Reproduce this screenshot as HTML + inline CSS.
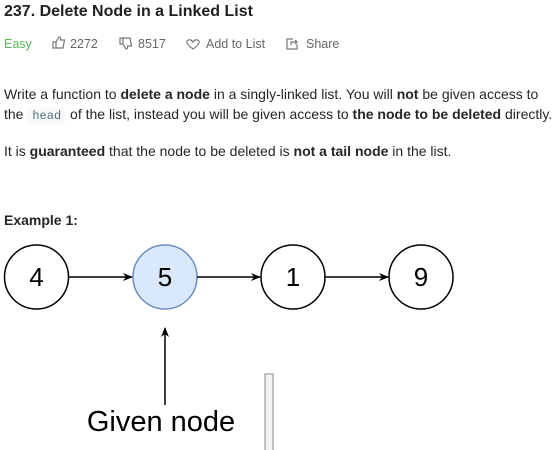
<!DOCTYPE html>
<html><head><meta charset="utf-8"><style>
body{margin:0;width:555px;height:450px;background:#fff;position:relative;overflow:hidden;font-family:"Liberation Sans","DejaVu Sans",sans-serif;color:#262626}
.t{position:absolute;white-space:nowrap;font-size:14px}
b{font-weight:bold}
code{font-family:"Liberation Mono",monospace;font-size:12px;background:#f7f9fa;color:#546e7a;padding:1px 5px;border-radius:3px}
</style></head><body>
<div class="t" style="left:4px;top:3px;font-size:16px;font-weight:bold;color:#212121">237. Delete Node in a Linked List</div>
<div class="t" style="left:4px;top:37px;font-size:12.5px;color:#5cb85c">Easy</div>
<div class="t" style="left:70px;top:37px;font-size:12.5px;color:#666">2272</div>
<div class="t" style="left:138px;top:37px;font-size:12.5px;color:#666">8517</div>
<div class="t" style="left:206px;top:37px;font-size:12.5px;color:#666">Add to List</div>
<div class="t" style="left:306px;top:37px;font-size:12.5px;color:#666">Share</div>
<svg style="position:absolute;left:0;top:0" width="555" height="60" fill="none" stroke="#777" stroke-width="1.2">
<path d="M53,48 h3 v-6 h-3z M56,42 l3,-5 q2,0 1.5,3 h4 l-1.5,8 h-7"/>
<path d="M120,38 h3 v6 h-3z M123,44 l3,5 q2,0 1.5,-3 h4 l-1.5,-8 h-7"/>
<path d="M193,42 q-3,-4 -6,-1 q-1,3 6,8 q7,-5 6,-8 q-3,-3 -6,1z"/>
<path d="M293,39 h-6 v10 h10 v-5 M291,45 v-3 h6 M295,40 l2,2 l-2,2"/>
</svg>
<div class="t" style="left:4px;top:86px">Write a function to <b>delete a node</b> in a singly-linked list. You will <b>not</b> be given access to</div>
<div class="t" style="left:4px;top:106px">the <code>head</code> of the list, instead you will be given access to <b>the node to be deleted</b> directly.</div>
<div class="t" style="left:4px;top:143px">It is <b>guaranteed</b> that the node to be deleted is <b>not a tail node</b> in the list.</div>
<div class="t" style="left:4px;top:212px;font-weight:bold">Example 1:</div>
<svg style="position:absolute;left:0;top:0" width="555" height="450">
<defs><marker id="a" markerWidth="10" markerHeight="8" refX="9" refY="4" orient="auto" markerUnits="userSpaceOnUse"><path d="M0,0 L10,4 L0,8 L3,4z" fill="#000"/></marker></defs>
<g stroke="#000" stroke-width="1.5" fill="#fff">
<circle cx="36.5" cy="277" r="32"/>
<circle cx="165" cy="277" r="32" fill="#dae8fc" stroke="#6c8ebf"/>
<circle cx="293" cy="277" r="32"/>
<circle cx="421" cy="277" r="32"/>
<line x1="69" y1="277" x2="132" y2="277" marker-end="url(#a)"/>
<line x1="197" y1="277" x2="260" y2="277" marker-end="url(#a)"/>
<line x1="325" y1="277" x2="388" y2="277" marker-end="url(#a)"/>
<line x1="165" y1="405" x2="165" y2="328" marker-end="url(#a)"/>
</g>
<rect x="265" y="374" width="8" height="80" fill="#f2f2f2" stroke="#888" stroke-width="1"/>
<g font-family="Liberation Sans, sans-serif" font-size="26" text-anchor="middle" fill="#000">
<text x="36.5" y="286">4</text><text x="165" y="286">5</text><text x="293" y="286">1</text><text x="421" y="286">9</text>
<text x="161" y="431" font-size="29">Given node</text>
</g>
</svg>
</body></html>
